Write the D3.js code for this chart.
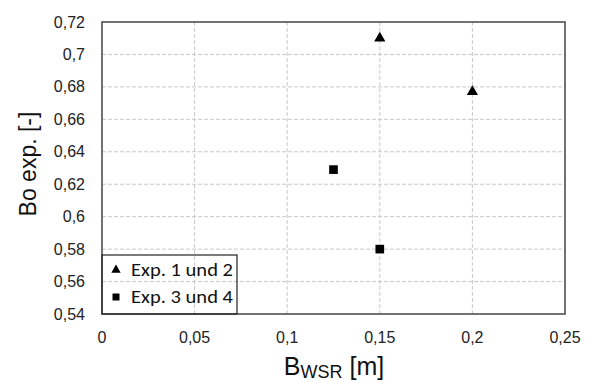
<!DOCTYPE html>
<html>
<head>
<meta charset="utf-8">
<script src="https://cdn.jsdelivr.net/npm/d3@7"></script>
<style>
  body { margin: 0; background: #fff; }
  text { font-family: "Liberation Sans", Arial, sans-serif; }
</style>
</head>
<body>
<svg id="chart" width="592" height="383"></svg>
<script>
// series
var exp12X = [0.15, 0.2]
var exp12Y = [0.710, 0.677]
var exp34X = [0.125, 0.15]
var exp34Y = [0.629, 0.580]

var xTicks = [0, 0.05, 0.1, 0.15, 0.2, 0.25]
var yTicks = [0.54, 0.56, 0.58, 0.6, 0.62, 0.64, 0.66, 0.68, 0.7, 0.72]
var legendLabels = ['Exp. 1 und 2', 'Exp. 3 und 4']

var margin = {top: 22, left: 102, right: 27, bottom: 69}
var width = 592 - margin.left - margin.right
var height = 383 - margin.top - margin.bottom

var svg = d3.select('#chart')
var g = svg.append('g').attr('transform', `translate(${margin.left},${margin.top})`)

var x = d3.scaleLinear().domain([0, 0.25]).range([0, width])
var y = d3.scaleLinear().domain([0.54, 0.72]).range([height, 0])

var fmt = d => String(+d.toFixed(2)).replace('.', ',')

// grid
g.selectAll('line.gx').data(xTicks.slice(1, -1)).join('line')
  .attr('x1', d => x(d)).attr('x2', d => x(d))
  .attr('y1', 0).attr('y2', height)
  .attr('stroke', '#c8c8c8').attr('stroke-dasharray', '4,2').attr('stroke-width', 1)
g.selectAll('line.gy').data(yTicks.slice(1, -1)).join('line')
  .attr('y1', d => y(d)).attr('y2', d => y(d))
  .attr('x1', 0).attr('x2', width)
  .attr('stroke', '#c8c8c8').attr('stroke-dasharray', '4,2').attr('stroke-width', 1)

// frame
g.append('rect').attr('width', width).attr('height', height)
  .attr('fill', 'none').attr('stroke', '#444').attr('stroke-width', 1.5)

// tick labels
g.selectAll('text.xt').data(xTicks).join('text')
  .attr('x', d => x(d)).attr('y', height + 29)
  .attr('text-anchor', 'middle').attr('font-size', 16).attr('fill', '#222')
  .text(fmt)
g.selectAll('text.yt').data(yTicks).join('text')
  .attr('x', -17).attr('y', d => y(d)).attr('dy', '0.35em')
  .attr('text-anchor', 'end').attr('font-size', 16).attr('fill', '#222')
  .text(fmt)

// axis titles
var xt = svg.append('text')
  .attr('x', 334).attr('y', 375)
  .attr('text-anchor', 'middle').attr('font-size', 25).attr('fill', '#111')
xt.append('tspan').text('B')
xt.append('tspan').attr('font-size', 18).attr('dy', 3).text('WSR')
xt.append('tspan').attr('dy', -3).text(' [m]')

svg.append('text')
  .attr('transform', `translate(36,${margin.top + 142}) rotate(-90)`)
  .attr('text-anchor', 'middle').attr('font-size', 23).attr('fill', '#111')
  .text('Bo exp. [-]')

// points
var tri = d3.symbol().type(d3.symbolTriangle).size(55)
var sq = d3.symbol().type(d3.symbolSquare).size(75)
var triSmall = d3.symbol().type(d3.symbolTriangle).size(38)
var sqSmall = d3.symbol().type(d3.symbolSquare).size(49)

g.selectAll('path.tri').data(exp12X).join('path')
  .attr('d', tri)
  .attr('transform', (d, i) => `translate(${x(d)},${y(exp12Y[i])})`)
  .attr('fill', '#000')
g.selectAll('path.sq').data(exp34X).join('path')
  .attr('d', sq)
  .attr('transform', (d, i) => `translate(${x(d)},${y(exp34Y[i])})`)
  .attr('fill', '#000')

// legend (transparent, grid shows through)
var lg = g.append('g').attr('transform', `translate(0,${height - 59})`)
lg.append('rect').attr('width', 135).attr('height', 59)
  .attr('fill', 'none').attr('stroke', '#222').attr('stroke-width', 1.2)
legendLabels.forEach((label, i) => {
  var cy = 15 + i * 27
  lg.append('path').attr('d', i ? sqSmall : triSmall)
    .attr('transform', `translate(14,${cy})`).attr('fill', '#000')
  lg.append('text').attr('x', 29).attr('y', cy).attr('dy', '0.35em')
    .attr('font-size', 17.5).attr('fill', '#111')
    .attr('textLength', 102).attr('lengthAdjust', 'spacingAndGlyphs')
    .style('font-family', 'Carlito, Lato, "Open Sans", sans-serif')
    .text(label)
})
</script>
</body>
</html>
